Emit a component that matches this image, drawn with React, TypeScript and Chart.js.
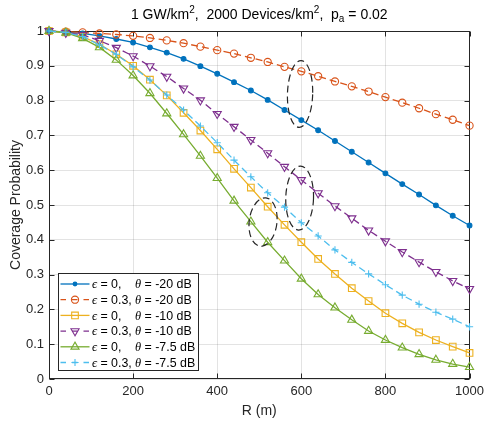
import React, { useEffect, useRef } from 'react';
import { Chart, registerables } from 'chart.js';
Chart.register(...registerables);

// ---- data ----
const R_M = [0, 40, 80, 120, 160, 200, 240, 280, 320, 360, 400, 440, 480, 520, 560, 600, 640, 680, 720, 760, 800, 840, 880, 920, 960, 1000];

const EPS0_TH20 = [1.0, 0.997, 0.993, 0.986, 0.977, 0.967, 0.953, 0.938, 0.92, 0.899, 0.877, 0.853, 0.829, 0.802, 0.773, 0.744, 0.715, 0.684, 0.653, 0.622, 0.591, 0.56, 0.53, 0.499, 0.469, 0.441];
const EPS03_TH20 = [1.0, 0.998, 0.996, 0.993, 0.99, 0.986, 0.98, 0.973, 0.965, 0.955, 0.945, 0.935, 0.923, 0.911, 0.897, 0.884, 0.87, 0.855, 0.841, 0.826, 0.81, 0.794, 0.778, 0.761, 0.745, 0.728];
const EPS0_TH10 = [1.0, 0.996, 0.984, 0.962, 0.933, 0.9, 0.86, 0.815, 0.765, 0.714, 0.66, 0.604, 0.55, 0.495, 0.443, 0.393, 0.345, 0.302, 0.261, 0.224, 0.189, 0.16, 0.134, 0.112, 0.093, 0.075];
const EPS03_TH10 = [1.0, 0.995, 0.989, 0.972, 0.952, 0.928, 0.899, 0.869, 0.835, 0.801, 0.762, 0.725, 0.687, 0.649, 0.61, 0.572, 0.534, 0.497, 0.462, 0.427, 0.396, 0.365, 0.336, 0.308, 0.282, 0.259];
const EPS0_TH75 = [1.0, 0.995, 0.979, 0.953, 0.917, 0.872, 0.821, 0.763, 0.703, 0.641, 0.577, 0.512, 0.452, 0.393, 0.34, 0.288, 0.243, 0.205, 0.17, 0.138, 0.112, 0.09, 0.071, 0.055, 0.043, 0.034];
const EPS03_TH75 = [1.0, 0.996, 0.984, 0.96, 0.933, 0.897, 0.859, 0.816, 0.773, 0.727, 0.679, 0.629, 0.581, 0.535, 0.494, 0.449, 0.411, 0.371, 0.335, 0.302, 0.271, 0.241, 0.215, 0.192, 0.172, 0.15];

const SERIES = [EPS0_TH20, EPS03_TH20, EPS0_TH10, EPS03_TH10, EPS0_TH75, EPS03_TH75];
const LEGEND_EPS = ['0,', '0.3,', '0,', '0.3,', '0,', '0.3,'];
const LEGEND_THETA = ['-20 dB', '-20 dB', '-10 dB', '-10 dB', '-7.5 dB', '-7.5 dB'];

const X_TICKS = [0, 200, 400, 600, 800, 1000];
const Y_TICKS = [0, 0.1, 0.2, 0.3, 0.4, 0.5, 0.6, 0.7, 0.8, 0.9, 1];

// annotation ellipses (data units)
const ELL_X = [597, 596, 509];
const ELL_Y = [0.819, 0.52, 0.451];
const ELL_RX = [30, 33, 33];
const ELL_RY = [0.096, 0.092, 0.07];

const TITLE_PARTS: [string, string][] = [
  ['1 GW/km', 'n'], ['2', 'sup'], [',  2000 Devices/km', 'n'], ['2', 'sup'], [',  p', 'n'], ['a', 'sub'], [' = 0.02', 'n'],
];
const X_LABEL = 'R (m)';
const Y_LABEL = 'Coverage Probability';

// ---- styles ----
const COLORS = ['#0072BD', '#D95319', '#EDB120', '#7E2F8E', '#77AC30', '#4DBEEE'];
const DASHED = [false, true, false, true, false, true];
const MARKERS = ['dot', 'circle', 'square', 'tridown', 'triup', 'plus'];
const AXC = '#262626';
const SANS = '"Liberation Sans", Arial, Helvetica, sans-serif';
const LEG_SIZE = 12.4;
const SERIF_IT = `italic ${LEG_SIZE}px "Liberation Serif", "DejaVu Serif", serif`;

function pointCfg(m: string, c: string) {
  switch (m) {
    case 'dot': return { pointStyle: 'circle', pointRadius: 2.4, pointBackgroundColor: c, pointRotation: 0 };
    case 'circle': return { pointStyle: 'circle', pointRadius: 3.6, pointBackgroundColor: 'rgba(0,0,0,0)', pointRotation: 0 };
    case 'square': return { pointStyle: 'rect', pointRadius: 4.7, pointBackgroundColor: 'rgba(0,0,0,0)', pointRotation: 0 };
    case 'tridown': return { pointStyle: 'triangle', pointRadius: 4.7, pointBackgroundColor: 'rgba(0,0,0,0)', pointRotation: 180 };
    case 'triup': return { pointStyle: 'triangle', pointRadius: 4.7, pointBackgroundColor: 'rgba(0,0,0,0)', pointRotation: 0 };
    default: return { pointStyle: 'cross', pointRadius: 3.6, pointBackgroundColor: 'rgba(0,0,0,0)', pointRotation: 0 };
  }
}

function drawMarker(ctx: CanvasRenderingContext2D, m: string, x: number, y: number, c: string) {
  ctx.save();
  ctx.strokeStyle = c;
  ctx.fillStyle = c;
  ctx.lineWidth = 1.1;
  ctx.setLineDash([]);
  ctx.beginPath();
  if (m === 'dot') { ctx.arc(x, y, 2.4, 0, Math.PI * 2); ctx.fill(); }
  else if (m === 'circle') { ctx.arc(x, y, 3.6, 0, Math.PI * 2); ctx.stroke(); }
  else if (m === 'square') { const s = 4.7 * Math.SQRT1_2; ctx.rect(x - s, y - s, 2 * s, 2 * s); ctx.stroke(); }
  else if (m === 'triup' || m === 'tridown') {
    const r = 4.7; let a = m === 'triup' ? 0 : Math.PI;
    for (let k = 0; k < 3; k++) {
      const px = x + Math.sin(a) * r, py = y - Math.cos(a) * r;
      if (k === 0) ctx.moveTo(px, py); else ctx.lineTo(px, py);
      a += (2 * Math.PI) / 3;
    }
    ctx.closePath(); ctx.stroke();
  } else {
    ctx.moveTo(x - 3.6, y); ctx.lineTo(x + 3.6, y); ctx.moveTo(x, y - 3.6); ctx.lineTo(x, y + 3.6); ctx.stroke();
  }
  ctx.restore();
}

const framePlugin = {
  id: 'frame',
  beforeDatasetsDraw(chart: any) {
    const { ctx, chartArea: a, scales } = chart;
    ctx.save();
    ctx.strokeStyle = AXC;
    ctx.lineWidth = 1;
    const L = Math.round(a.left) + 0.5, Rr = Math.round(a.right) - 0.5, T = Math.round(a.top) + 0.5, B = Math.round(a.bottom) - 0.5;
    ctx.strokeRect(L, T, Rr - L, B - T);
    ctx.beginPath();
    const tl = 5;
    X_TICKS.forEach((v) => {
      const px = Math.round(scales.x.getPixelForValue(v)) + 0.5;
      ctx.moveTo(px, B); ctx.lineTo(px, B - tl);
      ctx.moveTo(px, T); ctx.lineTo(px, T + tl);
    });
    Y_TICKS.forEach((v) => {
      const py = Math.round(scales.y.getPixelForValue(v)) + 0.5;
      ctx.moveTo(L, py); ctx.lineTo(L + tl, py);
      ctx.moveTo(Rr, py); ctx.lineTo(Rr - tl, py);
    });
    ctx.stroke();
    ctx.restore();
  },
  afterDraw(chart: any) {
    const { ctx, chartArea: a, scales } = chart;
    ctx.save();
    // ellipses
    ctx.strokeStyle = AXC;
    ctx.lineWidth = 1.2;
    ctx.setLineDash([7, 4]);
    for (let i = 0; i < ELL_X.length; i++) {
      const cx = scales.x.getPixelForValue(ELL_X[i]);
      const cy = scales.y.getPixelForValue(ELL_Y[i]);
      const rx = Math.abs(scales.x.getPixelForValue(ELL_X[i] + ELL_RX[i]) - cx);
      const ry = Math.abs(scales.y.getPixelForValue(ELL_Y[i] + ELL_RY[i]) - cy);
      ctx.beginPath();
      ctx.ellipse(cx, cy, rx, ry, i === 2 ? 0.12 : 0.03, 0, Math.PI * 2);
      ctx.stroke();
    }
    ctx.setLineDash([]);

    // legend
    const bx = a.left + 9.5, bw = 140, bh = 97;
    const by = a.bottom - 8.5 - bh;
    ctx.fillStyle = '#fff';
    ctx.fillRect(bx, by, bw, bh);
    ctx.strokeStyle = AXC;
    ctx.lineWidth = 1;
    ctx.strokeRect(bx, by, bw, bh);
    for (let i = 0; i < SERIES.length; i++) {
      const cy = by + 10.5 + i * 15.7;
      const x0 = bx + 2, x1 = bx + 31;
      ctx.strokeStyle = COLORS[i];
      ctx.lineWidth = 1.3;
      ctx.setLineDash(DASHED[i] ? [5.5, 6] : []);
      ctx.beginPath(); ctx.moveTo(x0, cy); ctx.lineTo(x1, cy); ctx.stroke();
      ctx.setLineDash([]);
      drawMarker(ctx, MARKERS[i], (x0 + x1) / 2, cy, COLORS[i]);
      const base = cy + 4.3;
      ctx.fillStyle = '#000';
      ctx.textAlign = 'left';
      ctx.textBaseline = 'alphabetic';
      let tx = bx + 33.5;
      ctx.font = SERIF_IT;
      ctx.fillText('\u03F5', tx, base);
      tx += ctx.measureText('\u03F5').width;
      ctx.font = `${LEG_SIZE}px ${SANS}`;
      ctx.fillText(' = ' + LEGEND_EPS[i], tx, base);
      let tx2 = bx + 76.5;
      ctx.font = SERIF_IT;
      ctx.fillText('\u03B8', tx2, base);
      tx2 += ctx.measureText('\u03B8').width;
      ctx.font = `${LEG_SIZE}px ${SANS}`;
      ctx.fillText(' = ' + LEGEND_THETA[i], tx2, base);
    }

    // title
    const fonts: Record<string, string> = { n: '14px ' + SANS, sup: '10px ' + SANS, sub: '10px ' + SANS };
    const offs: Record<string, number> = { n: 0, sup: -6, sub: 3.5 };
    let total = 0;
    TITLE_PARTS.forEach(([t, s]) => { ctx.font = fonts[s]; total += ctx.measureText(t).width; });
    let tx = (a.left + a.right) / 2 - total / 2;
    ctx.fillStyle = '#000';
    TITLE_PARTS.forEach(([t, s]) => {
      ctx.font = fonts[s];
      ctx.fillText(t, tx, 18.5 + offs[s]);
      tx += ctx.measureText(t).width;
    });

    // axis labels
    ctx.fillStyle = AXC;
    ctx.font = '14px ' + SANS;
    ctx.textAlign = 'center';
    ctx.fillText(X_LABEL, (a.left + a.right) / 2, 415);
    ctx.save();
    ctx.translate(20, (a.top + a.bottom) / 2);
    ctx.rotate(-Math.PI / 2);
    ctx.fillText(Y_LABEL, 0, 0);
    ctx.restore();
    ctx.restore();
  },
};

export default function App() {
  const ref = useRef<HTMLCanvasElement>(null);
  useEffect(() => {
    if (!ref.current) return;
    const datasets = SERIES.map((vals, i) => ({
      label: LEGEND_EPS[i] + LEGEND_THETA[i],
      data: R_M.map((x, k) => ({ x, y: vals[k] })),
      borderColor: COLORS[i],
      borderWidth: 1.3,
      borderDash: DASHED[i] ? [7, 4] : [],
      pointBorderColor: COLORS[i],
      pointBorderWidth: 1.1,
      ...pointCfg(MARKERS[i], COLORS[i]),
      tension: 0,
      fill: false,
      clip: false as any,
      order: SERIES.length - i,
    }));
    const chart = new Chart(ref.current, {
      type: 'line',
      data: { datasets },
      plugins: [framePlugin],
      options: {
        animation: false,
        responsive: false,
        devicePixelRatio: 1,
        layout: { padding: { left: 0, right: 14, top: 31, bottom: 0 } },
        plugins: { legend: { display: false }, title: { display: false }, tooltip: { enabled: false } },
        scales: {
          x: {
            type: 'linear', min: 0, max: 1000,
            afterFit: (s: any) => { s.height = 46; },
            afterBuildTicks: (s: any) => { s.ticks = X_TICKS.map((v) => ({ value: v })); },
            ticks: { font: { family: SANS, size: 13 }, color: AXC, padding: 5, maxRotation: 0, autoSkip: false, callback: (v: any) => String(v) },
            grid: { color: 'rgba(0,0,0,0.11)', drawTicks: false },
            border: { display: false },
          },
          y: {
            type: 'linear', min: 0, max: 1,
            afterFit: (s: any) => { s.width = 49; },
            afterBuildTicks: (s: any) => { s.ticks = Y_TICKS.map((v) => ({ value: v })); },
            ticks: { font: { family: SANS, size: 13 }, color: AXC, padding: 5, autoSkip: false, callback: (v: any) => String(Number(Number(v).toFixed(1))) },
            grid: { color: 'rgba(0,0,0,0.11)', drawTicks: false },
            border: { display: false },
          },
        },
      } as any,
    });
    return () => chart.destroy();
  }, []);
  return (
    <div style={{ position: 'absolute', left: 0, top: 0, width: 489, height: 425, background: '#fff' }}>
      <canvas ref={ref} width={489} height={425} style={{ display: 'block', width: 489, height: 425 }} />
    </div>
  );
}
